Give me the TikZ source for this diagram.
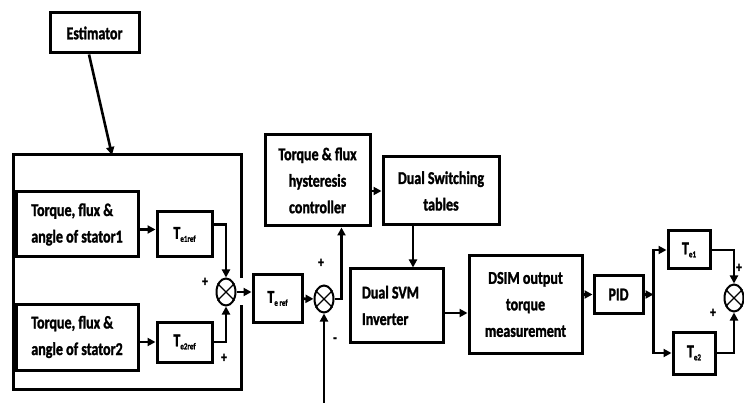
\documentclass[tikz,border=0pt]{standalone}
\usepackage{fontspec}
\setmainfont{Carlito}[FakeStretch=0.78, BoldFeatures={FakeBold=1.5}]
\usetikzlibrary{shapes.geometric,arrows.meta,positioning}
\newcommand{\Tsub}[1]{T\raisebox{-3pt}{\fontsize{9}{9}\selectfont #1}}

\begin{document}
\begin{tikzpicture}[x=1pt, y=-1pt,
  every node/.style={font=\fontsize{18}{26.5}\selectfont\bfseries},
  blk/.style={draw, line width=3pt, inner sep=0pt, align=center},
  sumnode/.style={draw, ellipse, line width=2pt, minimum width=19pt, minimum height=27pt, inner sep=0pt},
  arr/.style={-{Triangle[length=8pt,width=8pt]}, line width=2.6pt},
  sgn/.style={font=\fontsize{15}{15}\selectfont\bfseries, inner sep=0pt}]
  \useasboundingbox (0,0) rectangle (744,403);

  % estimator and the reference block
  \node[blk, minimum width=89pt, minimum height=40pt] (est) at (94.5,33) {Estimator};
  \coordinate (frametop) at (112,155);
  \draw[line width=3pt] (241,278) -- (241,155) -- (13,155) -- (13,389) -- (241,389) -- (241,305);
  \draw[arr] ([xshift=-5.5pt]est.south) -- (frametop);

  \node[blk, minimum width=122pt, minimum height=65pt, align=flush left] (st1) at (77,224.5) {Torque, flux \&\\angle of stator1};
  \node[blk, minimum width=122pt, minimum height=66pt, align=flush left] (st2) at (77,337) {Torque, flux \&\\angle of stator2};
  \node[blk, minimum width=55pt, minimum height=45pt] (te1ref) at (184.5,234.5) {\Tsub{e1ref}};
  \node[blk, minimum width=55pt, minimum height=40pt] (te2ref) at (184.5,342) {\Tsub{e2ref}};
  \node[sumnode] (s1) at (226,292) {};
  \node[sgn] (p1) at (205,282) {+};
  \node[sgn] (p2) at (224,358) {+};

  \draw[arr] ([yshift=-5pt]st1.east) -- ([yshift=-5pt]st1.east -| te1ref.west);
  \draw[arr] ([yshift=-5pt]st2.east) -- ([yshift=-5pt]st2.east -| te2ref.west);
  \draw[arr] ([yshift=10pt]te1ref.east) -| (s1.north);
  \draw[arr] (te2ref.east) -| (s1.south);

  % control chain
  \node[blk, minimum width=49pt, minimum height=47pt] (teref) at (277.5,298.5) {\Tsub{e ref}};
  \node[sumnode] (s2) at (324,299) {};
  \node[sgn] (p3) at (321,263) {+};
  \node[sgn] (m1) at (335,340) {-};
  \coordinate (fb) at (324,410);
  \node[blk, minimum width=105pt, minimum height=91pt] (hyst) at (317.5,180.5) {Torque \& flux\\hysteresis\\controller};
  \node[blk, minimum width=116pt, minimum height=68pt] (switch) at (441,191) {Dual Switching\\tables};
  \node[blk, minimum width=93pt, minimum height=73pt, text width=69pt, align=flush left] (svm) at (396.5,305.5) {Dual SVM\\Inverter};
  \node[blk, minimum width=113pt, minimum height=97pt] (dsim) at (525.5,304.5) {DSIM output\\torque\\measurement};
  \node[blk, minimum width=49pt, minimum height=37pt] (pid) at (618.5,294.5) {PID};
  \coordinate[right=9pt of pid] (split);
  \node[blk, minimum width=42pt, minimum height=38pt] (te1) at (689,250) {\Tsub{e1}};
  \node[blk, minimum width=42pt, minimum height=42pt] (te2) at (694,353) {\Tsub{e2}};
  \node[sumnode] (s3) at (734,298) {};
  \node[sgn] (p4) at (713,313) {+};
  \node[sgn] (p5) at (739,268) {+};

  \draw[arr] (s1.east) -- (s1.east -| teref.west);
  \draw[arr] (teref) -- (s2);
  \draw[arr] (fb) -- (s2.south);
  \draw[arr] (s2.east) -| ([xshift=24pt]hyst.south);
  \draw[arr] (hyst.east |- switch.west) -- (switch.west);
  \draw[arr] ([xshift=-28pt]switch.south) -- ([xshift=-28pt]switch.south |- svm.north);
  \draw[arr] ([yshift=-7.5pt]svm.east) -- ([yshift=-7.5pt]svm.east -| dsim.west);
  \draw[arr] (dsim.east |- pid.west) -- (pid.west);
  \draw[arr] (pid.east) -- (split);
  \draw[arr] (split) |- (te1.west);
  \draw[arr] (split) |- (te2.west);
  \draw[arr] (te1.east) -| (s3.north);
  \draw[arr] (te2.east) -| (s3.south);

  \foreach \s in {s1,s2,s3}
    \draw[line width=1.4pt] (\s.45) -- (\s.225) (\s.135) -- (\s.315);
\end{tikzpicture}
\end{document}
